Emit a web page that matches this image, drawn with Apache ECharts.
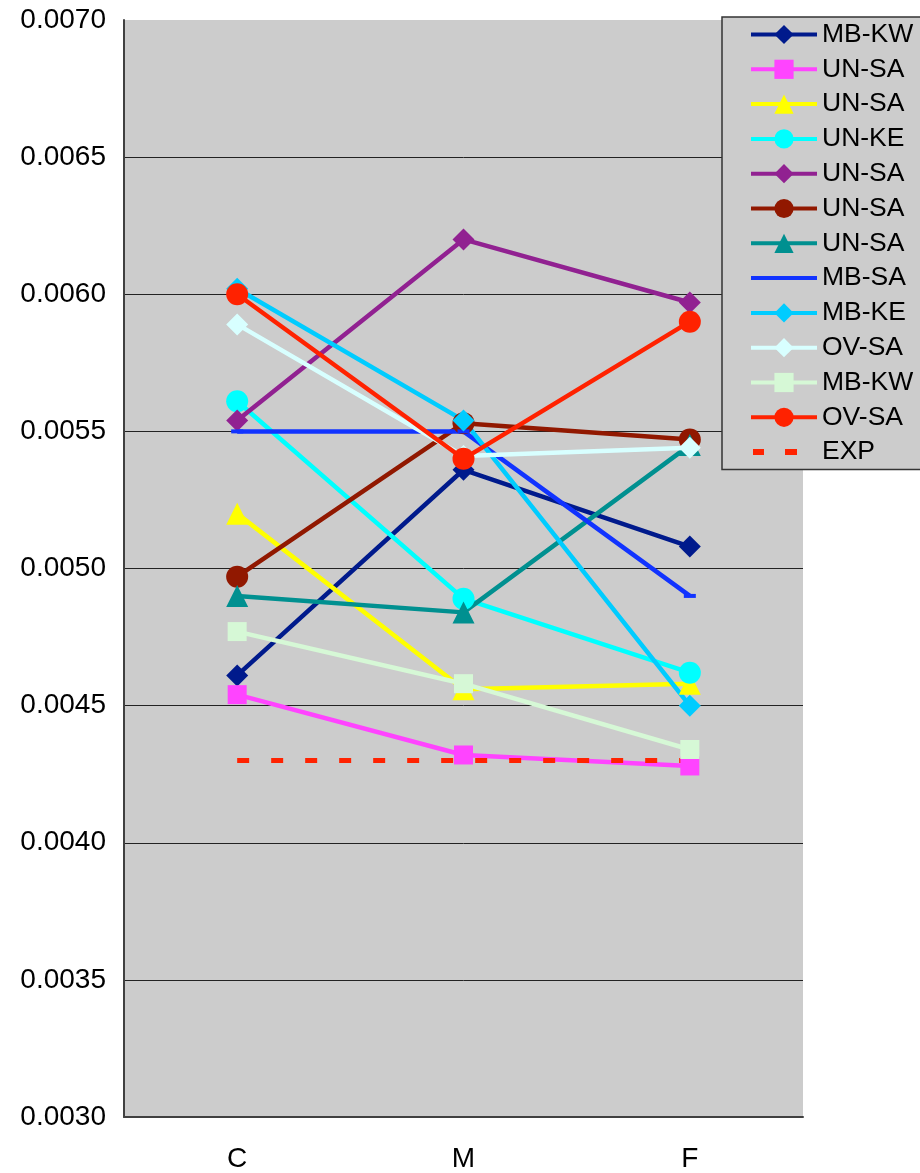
<!DOCTYPE html>
<html>
<head>
<meta charset="utf-8">
<title>Line chart</title>
<script src="https://cdn.jsdelivr.net/npm/echarts@6/dist/echarts.min.js"></script>
<style>
  html, body { margin: 0; padding: 0; background: #fff; }
  #chart { width: 920px; height: 1173px; }
</style>
</head>
<body>
<div id="chart"></div>
<script>
// categories on the x axis
const categories = ['C', 'M', 'F'];

// series names (shown in the legend, duplicates are allowed there)
const seriesNames = ['MB-KW', 'UN-SA', 'UN-SA', 'UN-KE', 'UN-SA', 'UN-SA', 'UN-SA',
  'MB-SA', 'MB-KE', 'OV-SA', 'MB-KW', 'OV-SA', 'EXP'];

// values, one array per series (C, M, F)
const mbKw1 = [0.00461, 0.00536, 0.00508];
const unSa1 = [0.00454, 0.00432, 0.00428];
const unSa2 = [0.00520, 0.00456, 0.00458];
const unKe = [0.00561, 0.00489, 0.00462];
const unSa3 = [0.00554, 0.00620, 0.00597];
const unSa4 = [0.00497, 0.00553, 0.00547];
const unSa5 = [0.00490, 0.00484, 0.00545];
const mbSa = [0.00550, 0.00550, 0.00490];
const mbKe = [0.00602, 0.00554, 0.00450];
const ovSa1 = [0.00589, 0.00541, 0.00544];
const mbKw2 = [0.00477, 0.00458, 0.00434];
const ovSa2 = [0.00600, 0.00540, 0.00590];
const exp = [0.00430, 0.00430, 0.00430];

const seriesData = [mbKw1, unSa1, unSa2, unKe, unSa3, unSa4, unSa5, mbSa, mbKe, ovSa1, mbKw2, ovSa2, exp];

// y axis range
const yMin = 0.0030;
const yMax = 0.0070;
const yStep = 0.0005;

// look of each series
const styles = [
  { color: '#001a8c', symbol: 'diamond', size: 22 },
  { color: '#ff44ff', symbol: 'rect', size: 19 },
  { color: '#ffff00', symbol: 'triangle', size: 22 },
  { color: '#00ffff', symbol: 'circle', size: 22 },
  { color: '#912191', symbol: 'diamond', size: 22 },
  { color: '#911800', symbol: 'circle', size: 22 },
  { color: '#009090', symbol: 'triangle', size: 22 },
  { color: '#1133ff', symbol: 'rect', size: [12, 4] },
  { color: '#00ccff', symbol: 'diamond', size: 22 },
  { color: '#d8ffff', symbol: 'diamond', size: 22 },
  { color: '#d6f8d6', symbol: 'rect', size: 19 },
  { color: '#ff2200', symbol: 'circle', size: 22 },
  { color: '#ff2200', symbol: 'none', size: 0 }
];

const font = '"Liberation Sans", Arial, sans-serif';

const series = seriesData.map((data, i) => {
  const st = styles[i];
  const isExp = seriesNames[i] === 'EXP';
  return {
    name: seriesNames[i] + '#' + i, // unique key, legend strips the suffix
    type: 'line',
    data: data,
    symbol: st.symbol,
    symbolSize: st.size,
    showSymbol: !isExp,
    animation: false,
    itemStyle: { color: st.color, opacity: 1 },
    lineStyle: isExp
      ? { color: st.color, width: 5, type: [12, 22] }
      : { color: st.color, width: 4.5 },
    emphasis: { disabled: true }
  };
});

const legendData = series.map((s, i) => {
  if (seriesNames[i] === 'MB-SA') {
    return { name: s.name, icon: 'path://M0,0L66,0L66,4L0,4Z' };
  }
  if (seriesNames[i] === 'EXP') {
    return { name: s.name, icon: 'path://M0,0L0,0.1L0.1,0.1Z M2,0h11v6h-11z M34,0h12v6h-12z M66,0L66,0.1L65.9,0.1Z' };
  }
  return s.name;
});

const myChart = echarts.init(document.getElementById('chart'));

const option = {
  backgroundColor: '#ffffff',
  animation: false,
  grid: {
    left: 124,
    top: 20,
    right: 117,
    bottom: 55,
    show: true,
    backgroundColor: '#cccccc',
    borderWidth: 0
  },
  legend: {
    orient: 'vertical',
    left: 722,
    top: 17,
    padding: [4, 10, 4, 27],
    itemWidth: 66,
    itemHeight: 24,
    itemGap: 7.8,
    backgroundColor: '#cccccc',
    borderColor: '#333333',
    borderWidth: 1.5,
    data: legendData,
    lineStyle: { width: 4 },
    formatter: name => name.split('#')[0],
    textStyle: { fontFamily: font, fontSize: 26.5, color: '#000' },
    selectedMode: false
  },
  xAxis: {
    type: 'category',
    data: categories,
    boundaryGap: true,
    axisLine: { lineStyle: { color: '#404040', width: 2 } },
    axisTick: { inside: true, length: 9, lineStyle: { color: '#111', width: 2 } },
    axisLabel: { fontFamily: font, fontSize: 28, color: '#000', margin: 28 }
  },
  yAxis: {
    type: 'value',
    min: yMin,
    max: yMax,
    interval: yStep,
    axisLine: { show: true, lineStyle: { color: '#404040', width: 2 } },
    axisTick: { show: false },
    axisLabel: {
      fontFamily: font,
      fontSize: 28,
      color: '#000',
      margin: 18,
      formatter: v => v.toFixed(4)
    },
    splitLine: { show: true, showMaxLine: false, lineStyle: { color: '#222', width: 1 } }
  },
  series: series
};

myChart.setOption(option);
</script>
</body>
</html>
